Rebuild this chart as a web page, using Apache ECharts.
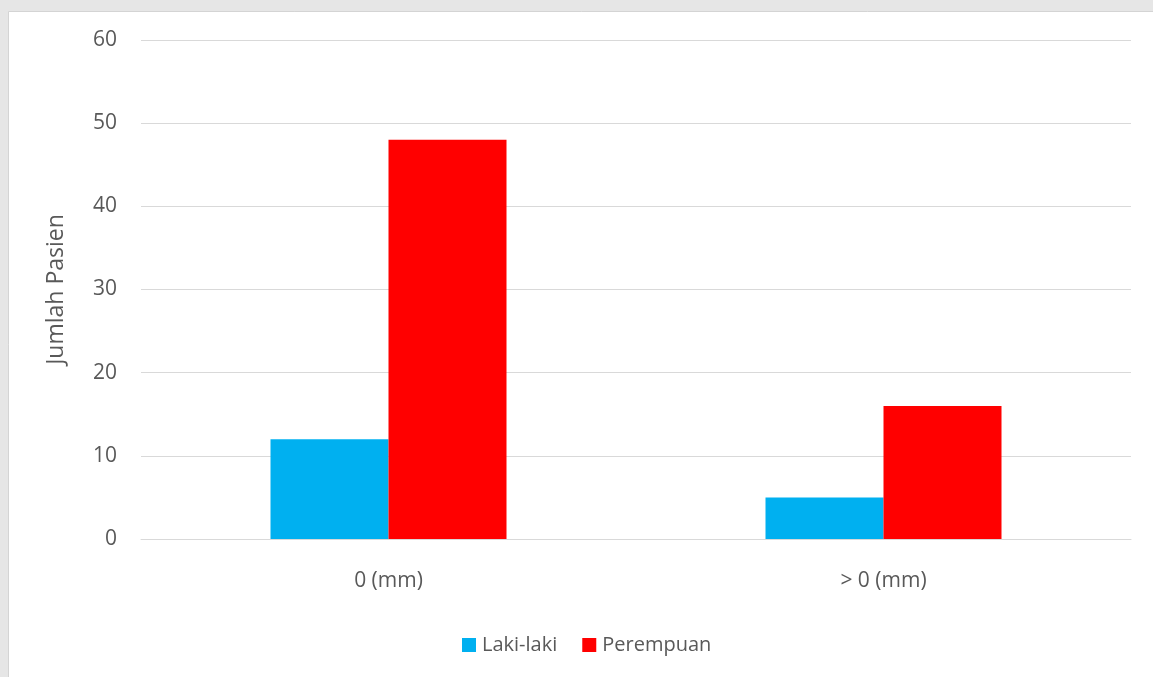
<!DOCTYPE html>
<html>
<head>
<meta charset="utf-8">
<style>
  html, body { margin: 0; padding: 0; background: #ffffff; }
  #chart { width: 1153px; height: 677px; }
</style>
<script src="https://cdn.jsdelivr.net/npm/echarts@6/dist/echarts.min.js"></script>
</head>
<body>
<div id="chart"></div>
<script>
// Patient counts by measurement group and sex
const categories = ['0 (mm)', '> 0 (mm)'];
const lakiLaki = [12, 5];
const perempuan = [48, 16];
const seriesNames = ['Laki-laki', 'Perempuan'];
const yAxisTitle = 'Jumlah Pasien';

const textColor = '#595959';
const fontFamily = '"Open Sans", "Noto Sans", sans-serif';

const chart = echarts.init(document.getElementById('chart'), null, { renderer: 'canvas' });

chart.setOption({
  animation: false,
  backgroundColor: '#e6e6e6',
  textStyle: { fontFamily: fontFamily },
  graphic: [
    {
      // white chart area with its light grey frame
      type: 'rect',
      shape: { x: 8.5, y: 11.5, width: 1160, height: 700 },
      style: { fill: '#ffffff', stroke: '#d4d4d4', lineWidth: 1 },
      silent: true,
      z: -10
    }
  ],
  grid: { left: 141, right: 22, top: 40, bottom: 138 },
  legend: {
    data: seriesNames,
    top: 630,
    left: 457,
    itemWidth: 14,
    itemHeight: 14,
    itemGap: 25,
    icon: 'rect',
    textStyle: { color: textColor, fontSize: 20, fontFamily: fontFamily, padding: [0, 0, 0, 1] }
  },
  xAxis: {
    type: 'category',
    data: categories,
    axisLine: { show: true, lineStyle: { color: '#d9d9d9', width: 1 } },
    axisTick: { show: false },
    axisLabel: { color: textColor, fontSize: 21, margin: 32, fontFamily: fontFamily }
  },
  yAxis: {
    type: 'value',
    min: 0,
    max: 60,
    interval: 10,
    name: yAxisTitle,
    nameLocation: 'middle',
    nameGap: 73,
    nameRotate: 90,
    nameTextStyle: { color: textColor, fontSize: 23, fontFamily: fontFamily },
    axisLine: { show: false },
    axisTick: { show: false },
    axisLabel: { color: textColor, fontSize: 21, margin: 24, fontFamily: fontFamily },
    splitLine: { lineStyle: { color: '#d9d9d9', width: 1 } }
  },
  series: [
    {
      name: seriesNames[0],
      type: 'bar',
      data: lakiLaki,
      barWidth: 118,
      barGap: '0%',
      itemStyle: { color: '#00b0f0' }
    },
    {
      name: seriesNames[1],
      type: 'bar',
      data: perempuan,
      barWidth: 118,
      barGap: '0%',
      itemStyle: { color: '#ff0000' }
    }
  ]
});
</script>
</body>
</html>
